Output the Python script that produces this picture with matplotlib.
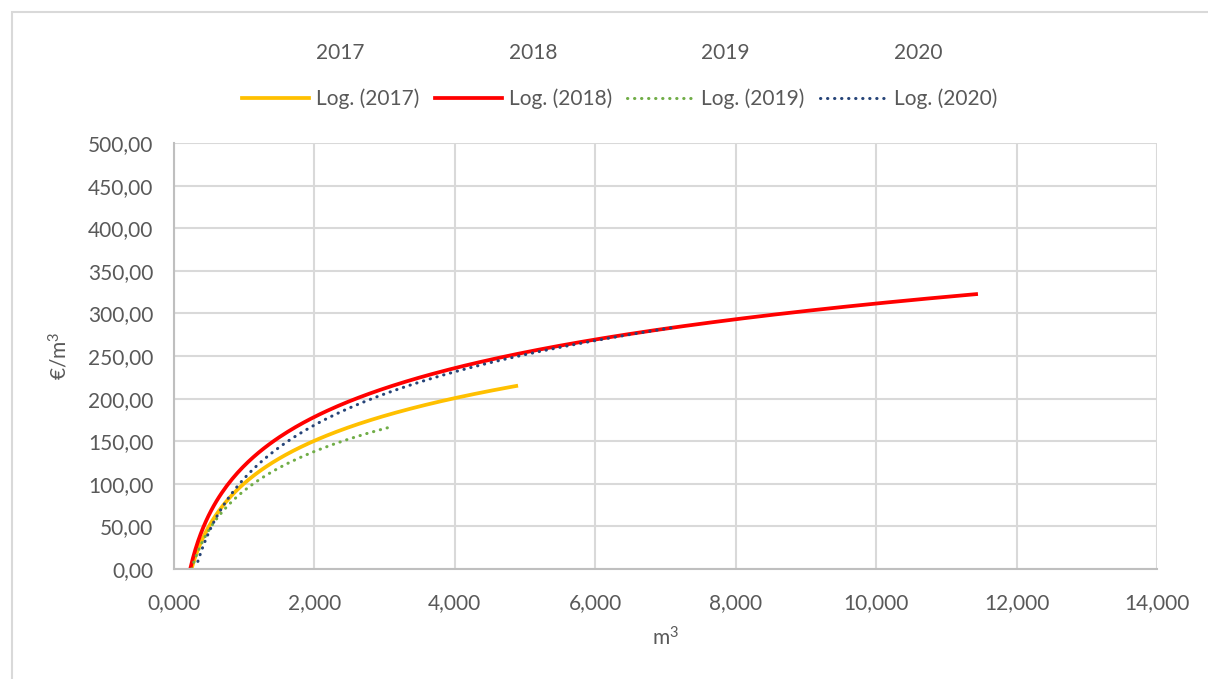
import numpy as np
import matplotlib
matplotlib.use("Agg")
import matplotlib.pyplot as plt
from matplotlib.lines import Line2D
from matplotlib.patches import Rectangle
from matplotlib.ticker import FuncFormatter

plt.rcParams['font.family'] = ['Lato', 'DejaVu Sans']
plt.rcParams['mathtext.default'] = 'regular'

# points (x in thousand m³, y in €/m³)
years = ['2017', '2018', '2019', '2020']
x_2017 = [0.25, 1.0, 2.0, 3.0, 4.0, 4.9]
y_2017 = [0, 101, 151, 180, 200, 215]
x_2018 = [0.23, 1.0, 2.0, 4.0, 6.0, 8.0, 10.0, 11.45]
y_2018 = [0, 121, 178, 236, 269, 293, 312, 323]
x_2019 = [0.25, 1.0, 2.0, 3.1]
y_2019 = [0, 92, 138, 167]
x_2020 = [0.34, 1.0, 2.0, 4.0, 6.0, 7.1]
y_2020 = [9, 106, 169, 232, 268, 283]

colors = ['#FFC000', '#FF0000', '#70AD47', '#264478']
styles = ['solid', 'solid', 'dotted', 'dotted']
series = [(x_2017, y_2017), (x_2018, y_2018), (x_2019, y_2019), (x_2020, y_2020)]

txt = '#595959'
fs = 15
fig = plt.figure(figsize=(12.08, 6.79), dpi=100)
ax = fig.add_axes([174 / 1208, 110 / 679, 983 / 1208, 426 / 679])

# outer chart border
fig.patches.append(Rectangle((12 / 1208, -0.05), 1.1, 1 - 12 / 679 + 0.05,
                             transform=fig.transFigure, fill=False,
                             edgecolor='#d9d9d9', linewidth=1.5))

handles = []
for year, (xs, ys), c, st in zip(years, series, colors, styles):
    # logarithmic trendline, like Excel's "Log." trendline
    a, b = np.polyfit(np.log(xs), ys, 1)
    xx = np.linspace(min(xs), max(xs), 300)
    if st == 'dotted':
        ls = (0, (0.1, 2.2))
        ax.plot(xx, a * np.log(xx) + b, color=c, linewidth=2.2, linestyle=ls,
                dash_capstyle='round')
    else:
        ls = 'solid'
        ax.plot(xx, a * np.log(xx) + b, color=c, linewidth=2.7,
                solid_capstyle='butt')
    handles.append(Line2D([], [], linestyle='none'))
    h = Line2D([], [], color=c, linewidth=2.7 if st == 'solid' else 2.2,
               linestyle=ls, dash_capstyle='round')
    handles.append(h)

labels = []
for year in years:
    labels += [year, 'Log. (' + year + ')']

ax.set_xlim(0, 14)
ax.set_ylim(0, 500)
ax.set_xticks(np.arange(0, 15, 2))
ax.set_yticks(np.arange(0, 501, 50))
ax.xaxis.set_major_formatter(FuncFormatter(lambda v, p: f'{v:.3f}'.replace('.', ',')))
ax.yaxis.set_major_formatter(FuncFormatter(lambda v, p: f'{v:.2f}'.replace('.', ',')))
ax.grid(True, color='#d9d9d9', linewidth=1.5)
ax.set_axisbelow(True)
for s in ['top', 'right']:
    ax.spines[s].set_visible(False)
for s in ['left', 'bottom']:
    ax.spines[s].set_color('#bfbfbf')
    ax.spines[s].set_linewidth(1.5)
ax.tick_params(length=0, labelsize=fs, colors=txt)
ax.tick_params(axis='y', pad=15)
ax.tick_params(axis='x', pad=17)
ax.set_xlabel('m$^{3}$', fontsize=fs, color=txt, labelpad=10)
ax.set_ylabel('€/m$^{3}$', fontsize=fs, color=txt, labelpad=12)

leg = fig.legend(handles, labels, ncol=4, loc='upper center',
                 bbox_to_anchor=(0.513, 1 - 24 / 679), frameon=False,
                 fontsize=fs, handlelength=3.25, handletextpad=0.3,
                 columnspacing=0.75, labelspacing=1.25)
for t in leg.get_texts():
    t.set_color(txt)

fig.savefig('out.png', dpi=100)
